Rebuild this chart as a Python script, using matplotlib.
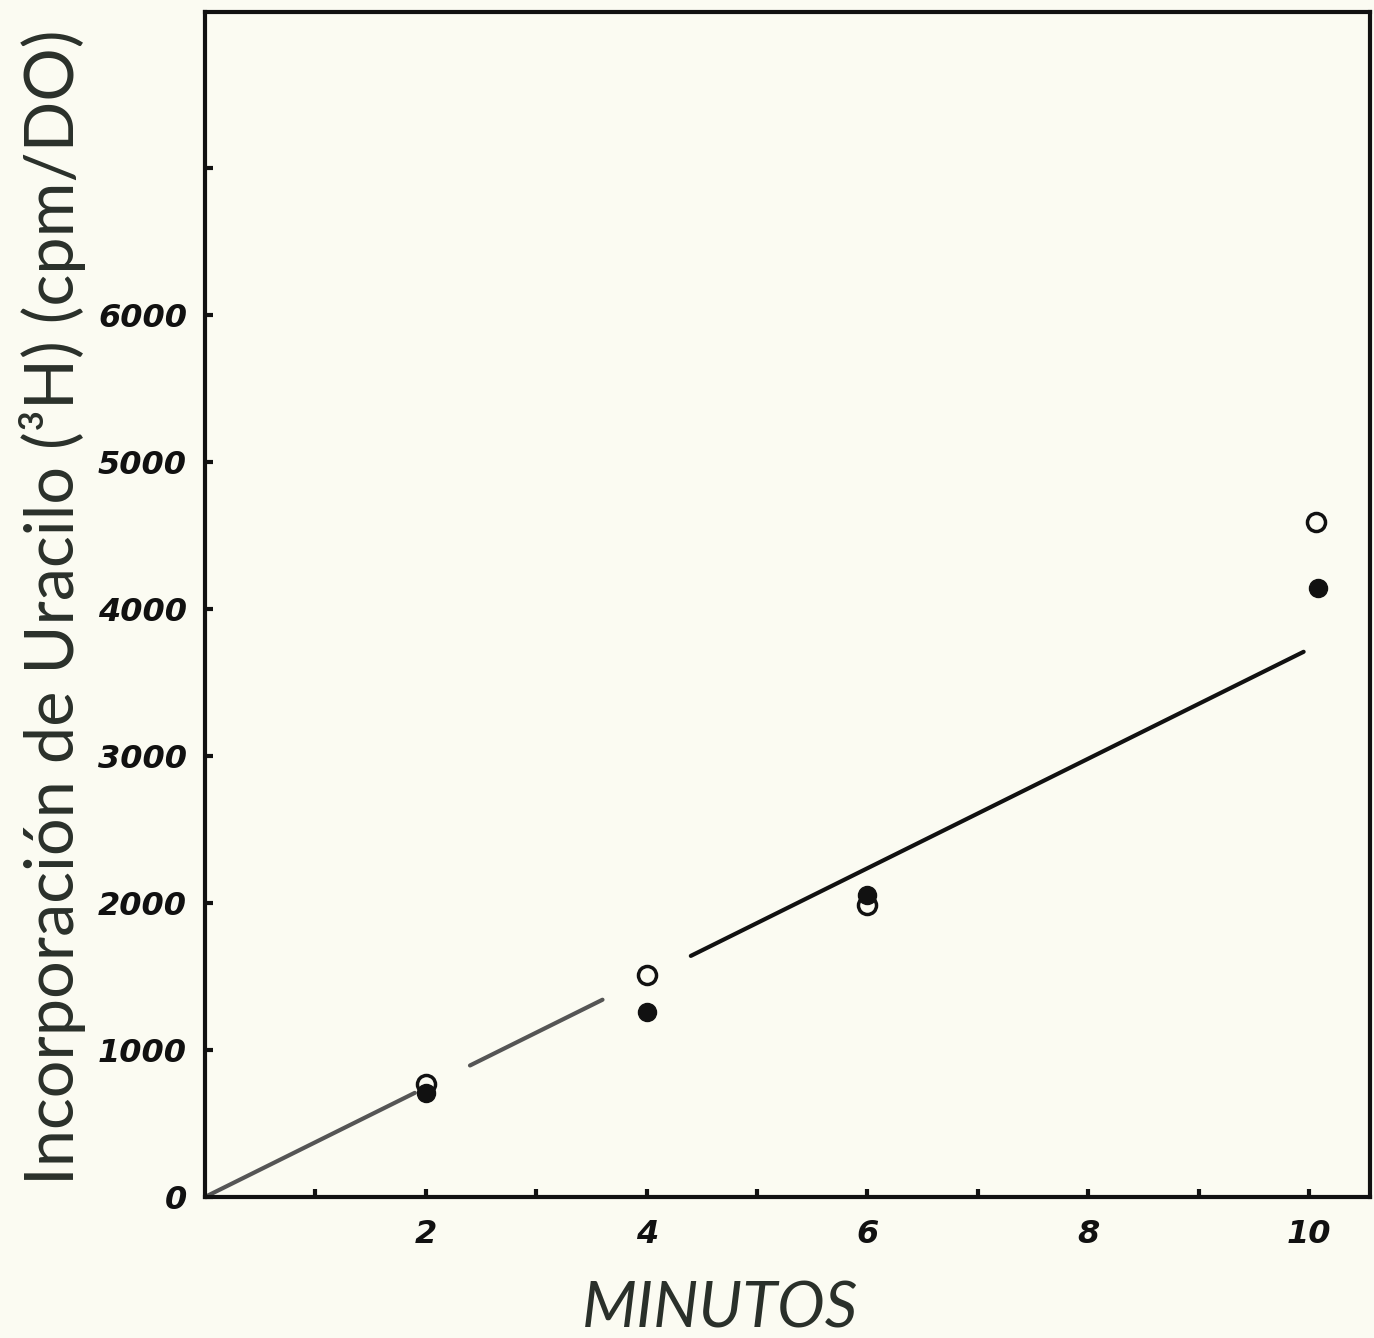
import numpy as np
import matplotlib.pyplot as plt

# datos
minutos = [2, 4, 6, 10.06]
abiertos = [770, 1510, 1985, 4590]
minutos_f = [2, 4, 6, 10.08]
llenos = [705, 1255, 2055, 4140]

# recta ajustada (con huecos alrededor de los puntos)
pendiente = 372.7
tramos = [(0, 1.9), (2.4, 3.6), (4.4, 9.95)]

y_ticks = [0, 1000, 2000, 3000, 4000, 5000, 6000, 7000]
y_labels = ['0', '1000', '2000', '3000', '4000', '5000', '6000', '']
x_ticks = [2, 4, 6, 8, 10]
x_minor = [1, 3, 5, 7, 9]

fondo = '#fbfbf2'
tinta = '#111111'
lapiz = '#2a302a'

fig = plt.figure(figsize=(13.74, 13.38), dpi=100, facecolor=fondo)
ax = fig.add_axes([0.1492, 0.1054, 0.8478, 0.8856])
ax.set_facecolor(fondo)

for a, b in tramos:
    xs = np.array([a, b])
    c = '#555555' if b < 4 else tinta
    ax.plot(xs, pendiente * xs, color=c, lw=3, solid_capstyle='round')

ax.plot(minutos, abiertos, 'o', ms=13, mfc='none', mec=tinta, mew=2.5)
ax.plot(minutos_f, llenos, 'o', ms=13, mfc=tinta, mec=tinta)

ax.set_xlim(0, 10.55)
ax.set_ylim(0, 8060)

for s in ax.spines.values():
    s.set_linewidth(3)
    s.set_color(tinta)

ax.set_yticks(y_ticks)
ax.set_yticklabels(y_labels)
ax.set_xticks(x_ticks)
ax.set_xticks(x_minor, minor=True)
ax.tick_params(axis='both', which='both', direction='in', length=6, width=3, color=tinta)
ax.tick_params(axis='x', pad=16)
ax.tick_params(axis='y', pad=13)
for t in ax.get_xticklabels() + ax.get_yticklabels():
    t.set_fontsize(23)
    t.set_fontweight('bold')
    t.set_fontstyle('italic')
    t.set_color(tinta)

fig.text(0.038, 0.546, 'Incorporación de Uracilo (³H) (cpm/DO)', rotation=90,
         ha='center', va='center', fontsize=48, color=lapiz, family='Lato')
fig.text(0.524, 0.008, 'MINUTOS', ha='center', va='baseline', fontsize=46,
         color=lapiz, family='Lato', fontstyle='italic')

fig.savefig('out.png', dpi=100, facecolor=fondo)
